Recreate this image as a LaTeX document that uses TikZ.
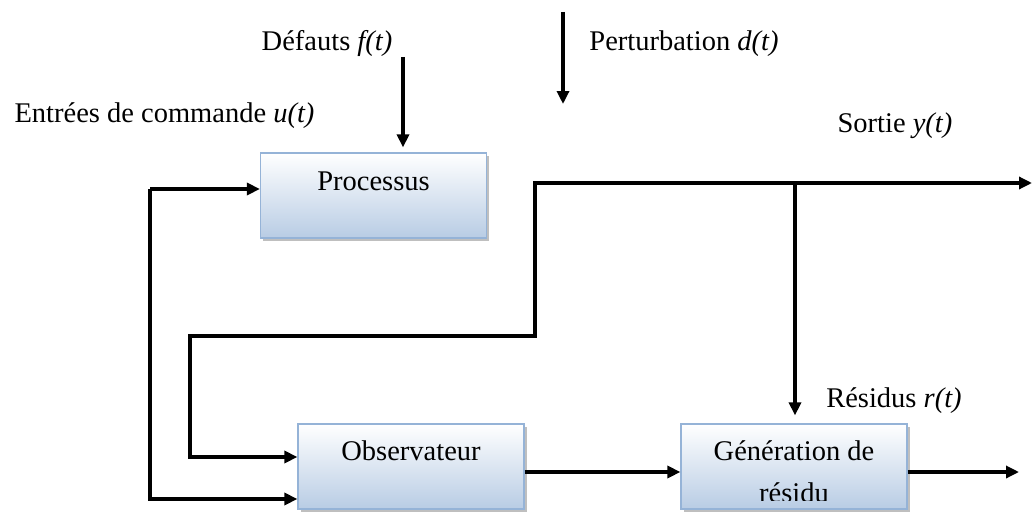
\documentclass[tikz,border=0pt]{standalone}
\usepackage{fontspec}
\setmainfont{Liberation Serif}
\usetikzlibrary{arrows.meta,shadows,calc}
\definecolor{boxline}{RGB}{149,179,215}
\definecolor{boxbot}{RGB}{184,204,228}
\tikzset{
  x=1pt,y=-1pt,
  box/.style={draw=boxline,line width=1.2pt,top color=white,bottom color=boxbot,
    minimum width=226pt,minimum height=85pt,inner sep=0pt,
    drop shadow={shadow xshift=2.5pt,shadow yshift=-2.5pt,fill=black,opacity=0.25}},
  lbl/.style={inner sep=0pt,font=\fontsize{28.5}{36}\selectfont},
  conn/.style={line width=3.2pt},
  arr/.style={conn,-{Triangle[length=13pt,width=12pt]}}
}
\begin{document}
\begin{tikzpicture}
\useasboundingbox (0,0) rectangle (1032,511);
% boxes
\node[box] (proc) at (373.5,195.5) {};
\node[box] (obs) at (411,466.5) {};
\node[box] (gen) at (794,466.5) {};
% box texts
\node[lbl,anchor=base] (proct) at (373.5,190) {Processus};
\node[lbl,anchor=base] (obst) at (411,460) {Observateur};
\node[lbl,anchor=base] (gent1) at (794,460) {Génération de};
\begin{scope}
\clip (gen.west |- 0,470) rectangle (gen.east |- 0,500);
\node[lbl,anchor=base] (gent2) at (794,502) {résidu};
\end{scope}
% labels
\node[lbl,anchor=base] (deft) at (327,50) {Défauts \textit{f(t)}};
\node[lbl,anchor=base] (pert) at (684,50) {Perturbation \textit{d(t)}};
\node[lbl,anchor=base] (ent) at (164.5,122) {Entrées de commande \textit{u(t)}};
\node[lbl,anchor=base] (sort) at (895,132) {Sortie \textit{y(t)}};
\node[lbl,anchor=base] (resl) at (894,407) {Résidus \textit{r(t)}};
% coordinates
\coordinate (dtop) at (403,57);
\coordinate (ptop) at (563,12);
\coordinate (pbot) at (563,104);
\coordinate (uin) at (150,189);
\coordinate (ubot) at (150,499);
\coordinate (ybr) at (535,183);
\coordinate (yend) at (1032,183);
\coordinate (rbr) at (795,183);
\coordinate (fb1) at (535,336);
\coordinate (fb2) at (190,336);
\coordinate (fbin) at (190,457);
\coordinate (ogy) at (0,472);
\coordinate (gout) at (1019,472);
% connectors
\draw[arr,shorten >=5pt] (dtop) -- (dtop |- proc.north);
\draw[arr] (ptop) -- (pbot);
\draw[arr] (uin) -- (uin -| proc.west);
\draw[arr] (uin) -- (ubot) -- (ubot -| obs.west);
\draw[arr] (ybr) -- (yend);
\draw[conn,line cap=rect] (ybr) -- (fb1) -- (fb2) -- (fbin);
\draw[arr] (fbin) -- (fbin -| obs.west);
\draw[arr,shorten >=8pt] (rbr) -- (rbr |- gen.north);
\draw[arr] (obs.east |- ogy) -- (gen.west |- ogy);
\draw[arr] (gen.east |- ogy) -- (gout);
\end{tikzpicture}
\end{document}
